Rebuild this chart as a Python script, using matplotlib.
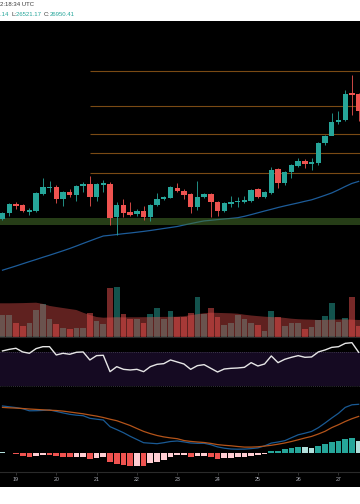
import matplotlib
matplotlib.use('Agg')
import matplotlib.pyplot as plt
import numpy as np
from matplotlib.patches import Rectangle
from matplotlib.lines import Line2D

# ---------------- data ----------------
open_ = [22434, 22684, 23047, 23018, 22738, 22780, 23476, 23726, 23768, 23255,
         23547, 23435, 23797, 23893, 23364, 23864, 23906, 22505, 23018, 22726,
         22642, 22767, 22517, 23018, 23268, 23322, 23739, 23614, 23464, 22947,
         23351, 23464, 23130, 22780, 23059, 23130, 23143, 23197, 23672, 23351,
         23530, 24519, 23923, 24394, 24644, 24865, 24740, 24756, 25590, 25907,
         26466, 26562, 27688, 27646]
high = [22726, 23101, 23155, 23059, 22880, 23539, 24156, 24018, 23831, 23601,
        23672, 23872, 23956, 24227, 23935, 24047, 23956, 23143, 23268, 23143,
        22830, 22976, 23059, 23518, 23393, 23810, 23947, 23664, 23518, 24031,
        23518, 23518, 23184, 23143, 23393, 23351, 23393, 23685, 23706, 23601,
        24590, 24560, 24435, 24727, 24977, 24915, 24973, 25645, 25936, 26841,
        26950, 27813, 28439, 27688]
low = [22392, 22559, 22851, 22726, 22600, 22746, 23435, 23572, 23113, 22988,
       23339, 23197, 23572, 22988, 23197, 23572, 22196, 21766, 22530, 22538,
       22559, 22392, 22350, 22976, 23226, 23289, 23539, 23255, 22696, 22809,
       23309, 22530, 22571, 22726, 22947, 22922, 23101, 23163, 23309, 23309,
       23497, 23714, 23872, 24131, 24602, 24548, 24477, 24706, 25540, 25936,
       26416, 26520, 26771, 26521.17]
close = [22684, 23047, 22976, 22767, 22822, 23505, 23768, 23768, 23268, 23560,
         23447, 23822, 23893, 23364, 23893, 23923, 22475, 23018, 22684, 22600,
         22755, 22517, 23018, 23268, 23339, 23768, 23614, 23447, 22947, 23364,
         23464, 23130, 22780, 23088, 23130, 23143, 23226, 23643, 23351, 23560,
         24477, 23923, 24394, 24673, 24865, 24727, 24798, 25603, 25907, 26479,
         26575, 27659, 27618, 26950.41]
ma_line = [20299, 20386, 20474, 20566, 20657, 20745, 20837, 20924, 21016, 21108,
           21204, 21308, 21416, 21520, 21625, 21725, 21754, 21787, 21821, 21850,
           21883, 21917, 21954, 21996, 22038, 22079, 22121, 22183, 22242, 22300,
           22354, 22379, 22409, 22434, 22459, 22488, 22546, 22617, 22692, 22767,
           22838, 22913, 22980, 23043, 23105, 23172, 23234, 23326, 23422, 23522,
           23651, 23789, 23918, 24002]
levels = [28618, 27133, 25966, 25173, 24339]
level_start = 13
zone = (22183, 22488)

volume = [2140, 2200, 1400, 1100, 1400, 2670, 3270, 1770, 1270, 900,
          740, 900, 900, 2340, 1600, 1270, 4870, 4970, 2300, 1770,
          1740, 1400, 2270, 2840, 1770, 2570, 1970, 1970, 2400, 3970,
          2240, 2900, 2000, 1170, 1400, 2170, 1740, 1340, 1170, 600,
          2600, 1940, 1070, 1400, 1340, 740, 940, 1670, 2070, 3370,
          1440, 1870, 3940, 1070]
volume_ma = [3340, 3340, 3350, 3360, 3380, 3400, 3280, 3080, 2970, 2870,
             2770, 2670, 2400, 2170, 1970, 1900, 1920, 1950, 1930, 1940,
             1940, 1950, 1960, 1970, 1980, 1980, 2000, 2050, 2150, 2250,
             2350, 2400, 2380, 2360, 2340, 2300, 2200, 2120, 2060, 2000,
             1960, 1940, 1880, 1800, 1750, 1720, 1700, 1670, 1680, 1700,
             1720, 1730, 1700, 1670]

rsi = [71.6, 73.5, 74.8, 70.4, 68.8, 74.4, 76.7, 76.7, 66.8, 68.8,
       67.6, 70.0, 70.4, 60.8, 66.0, 66.4, 46.8, 52.8, 49.6, 48.8,
       49.6, 46.8, 52.8, 55.6, 56.4, 60.8, 58.4, 56.0, 49.6, 54.0,
       55.2, 50.8, 46.4, 50.0, 50.8, 51.2, 52.0, 57.6, 53.6, 56.0,
       65.6, 57.6, 61.6, 64.0, 66.0, 64.0, 64.4, 70.4, 72.8, 75.9,
       76.7, 80.7, 81.5, 70.0]

macd = [473, 465, 457, 446, 425, 426, 429, 433, 419, 404,
        390, 381, 376, 350, 341, 333, 266, 237, 206, 170,
        138, 106, 101, 96, 106, 118, 123, 114, 103, 100,
        100, 86, 64, 51, 43, 41, 42, 47, 54, 74,
        102, 113, 126, 156, 185, 201, 219, 256, 303, 353,
        400, 459, 485, 490]
signal = [459, 455, 452, 448, 443, 439, 435, 431, 428, 422,
          413, 404, 395, 383, 372, 358, 341, 326, 302, 278,
          248, 219, 197, 178, 164, 154, 146, 128, 119, 113,
          108, 99, 87, 80, 75, 68, 62, 62, 65, 72,
          80, 91, 103, 118, 135, 153, 169, 193, 220, 257,
          286, 318, 346, 369]
hist = [17, 7, -7, -23, -33, -23, -13, -13, -27, -33,
        -40, -33, -33, -53, -43, -40, -90, -103, -117, -123,
        -123, -123, -100, -90, -67, -40, -20, -17, -33, -27,
        -27, -33, -53, -50, -43, -40, -33, -23, -17, -10,
        27, 27, 40, 57, 63, 63, 57, 77, 93, 110,
        120, 147, 153, 127]
hist_kind = ['pt', 'pt', 'r', 'r', 'r', 'p', 'p', 'r', 'r', 'r',
             'r', 'p', 'p', 'r', 'p', 'p', 'r', 'r', 'r', 'r',
             'p', 'r', 'p', 'p', 'p', 'p', 'p', 'p', 'r', 'p',
             'p', 'r', 'r', 'p', 'p', 'p', 'p', 'p', 'p', 'p',
             't', 't', 't', 't', 't', 'pt', 'pt', 't', 't', 't',
             't', 't', 't', 'pt']

day_labels = ['19', '20', '21', '22', '23', '24', '25', '26', '27']
first_day_index = 2
candles_per_day = 6

header_time = '2:18:34 UTC'
header_parts = [('.14 ', 'v'), ('L:', 'k'), ('26521.17 ', 'v'), ('C:', 'k'), ('26950.41', 'v')]

# ---------------- drawing ----------------
W, H = 360, 504
fig = plt.figure(figsize=(3.6, 5.04), dpi=100, facecolor='black')

def frac(top, bottom):
    return [0, 1 - bottom / H, 1, (bottom - top) / H]

TEAL = '#26a69a'
RED = '#ef5350'
o = np.array(open_, float); c = np.array(close, float)
hi = np.array(high, float); lo = np.array(low, float)
n = len(c)
idx = np.arange(n)
up = c >= o
cols = np.where(up, TEAL, RED)
xlim = (-0.372, 53.2)

def clean(ax):
    ax.set_facecolor('black')
    ax.set_xlim(xlim)
    for s in ax.spines.values():
        s.set_visible(False)
    ax.set_xticks([]); ax.set_yticks([])

# price pane
axp = fig.add_axes(frac(20.7, 280))
clean(axp)
axp.plot(idx, ma_line, color='#1d5c99', lw=0.9, zorder=1)
axp.axhspan(zone[0], zone[1], color='#4c7a2e', alpha=0.5, lw=0, zorder=2)
for lvl in levels:
    axp.hlines(lvl, level_start, xlim[1], color='#7a4a14', lw=0.8, zorder=1.5)
axp.vlines(idx, lo, hi, colors=cols, lw=0.6, zorder=3)
axp.bar(idx, np.maximum(np.abs(c - o), 40), bottom=np.minimum(o, c), width=0.8,
        color=cols, lw=0, zorder=4)
axp.set_ylim(19890, 30703)

# volume pane
axv = fig.add_axes(frac(281, 336.7))
clean(axv)
axv.bar(idx, volume, width=0.85, color=cols, alpha=0.5, lw=0)
xs = np.r_[xlim[0], idx, xlim[1]]
ys = np.r_[volume_ma[0], volume_ma, volume_ma[-1]]
axv.fill_between(xs, 0, ys, color=RED, alpha=0.4, lw=0)
axv.set_ylim(0, 5570)

# RSI pane
axr = fig.add_axes(frac(338, 394))
clean(axr)
axr.axhspan(30, 70, color='#150a22', lw=0)
for lv in (70, 30):
    axr.axhline(lv, color='#5f5f6e', lw=0.5, ls=(0, (1, 2)))
axr.plot(idx, rsi, color='#e6e6e6', lw=1.0)
axr.set_ylim(20.06, 87.1)

# MACD pane
axm = fig.add_axes(frac(395, 471.7))
clean(axm)
kind_col = {'t': '#26a69a', 'pt': '#b2dfdb', 'r': '#ef5350', 'p': '#ffcdd2'}
axm.bar(idx, hist, width=0.85, color=[kind_col[k] for k in hist_kind], lw=0)
axm.plot(idx, macd, color='#1a5a94', lw=0.9)
axm.plot(idx, signal, color='#b4541a', lw=0.9)
axm.set_ylim(-184, 583)
ticks = [first_day_index + candles_per_day * k for k in range(len(day_labels))]
axm.set_xticks(ticks)
axm.set_xticklabels(day_labels, fontsize=3.8, color='#b2b5be', family='Liberation Sans')
axm.tick_params(axis='x', length=2, width=0.5, color='#444444', pad=2)

# separators
for yy in (337, 472):
    fig.add_artist(Line2D([0, 1], [1 - yy / H] * 2, transform=fig.transFigure,
                          color='#2a2a2a', lw=0.8))

# white bands + header
fig.add_artist(Rectangle((0, 1 - 20.7 / H), 1, 20.7 / H, transform=fig.transFigure,
                         facecolor='white', edgecolor='none'))
fig.add_artist(Rectangle((0, 0), 1, 17.5 / H, transform=fig.transFigure,
                         facecolor='white', edgecolor='none'))
fig.text(0, 1 - 4.8 / H, header_time, fontsize=4.3, color='#3a3a3a', va='center',
         family='Liberation Sans')
renderer = fig.canvas.get_renderer()
x0 = 0.0
for txt, kind in header_parts:
    t = fig.text(x0 / W, 1 - 14.5 / H, txt, fontsize=4.3, va='center',
                 color=TEAL if kind == 'v' else '#3a3a3a', family='Liberation Sans')
    bb = t.get_window_extent(renderer=renderer)
    x0 += bb.width
    if txt.endswith(' '):
        x0 += 1.0

fig.savefig('out.png', dpi=100, facecolor='black')
